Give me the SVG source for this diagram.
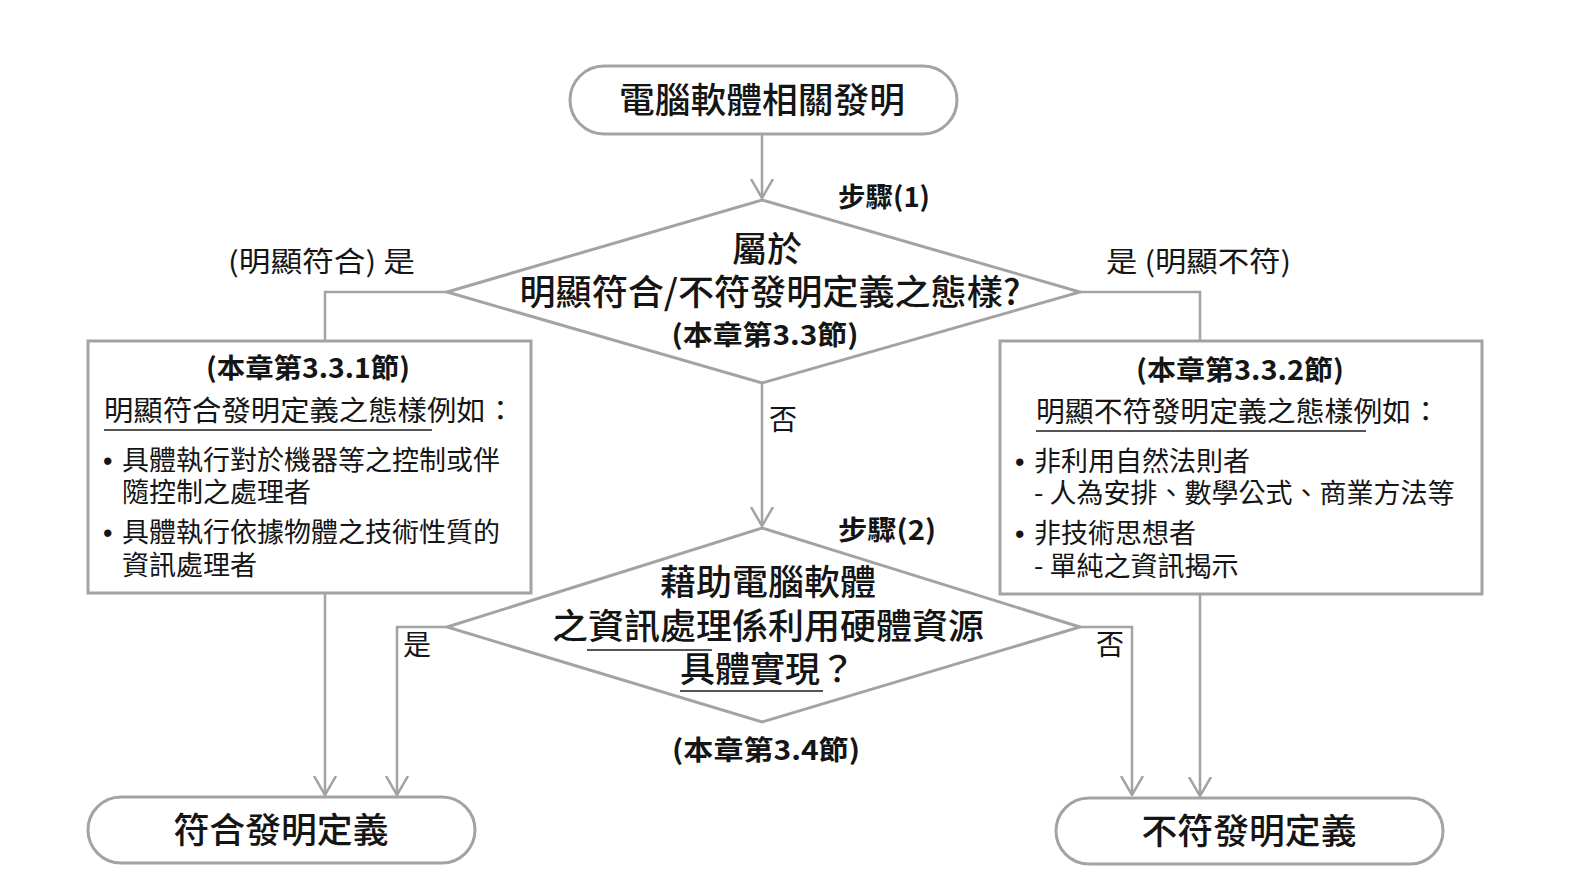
<svg xmlns="http://www.w3.org/2000/svg" width="1577" height="881" viewBox="0 0 1577 881">
<style>
text{font-family:"Noto Sans CJK TC","Noto Sans CJK SC",sans-serif;fill:#151515}
.big{font-size:35px;font-weight:500}
.mid{font-size:28px}
.ref{font-size:27px;font-weight:700}
.item{font-size:27px}
.dot{font-family:"Liberation Sans",sans-serif;font-size:27px}
.c{text-anchor:middle}
.shape{fill:#fff;stroke:#a3a3a3;stroke-width:3}
.ln{fill:none;stroke:#a3a3a3;stroke-width:2.5}
.ul{stroke:#555;stroke-width:2}
</style>
<defs>
<marker id="arr" viewBox="0 0 20 24" refX="19" refY="12" markerWidth="20" markerHeight="24" markerUnits="userSpaceOnUse" orient="auto">
<path d="M0,1 L19,12 L0,23" fill="none" stroke="#a3a3a3" stroke-width="2.5"/>
</marker>
</defs>
<rect width="1577" height="881" fill="#fff"/>

<g id="connectors">
<path class="ln" d="M762,134 V198" marker-end="url(#arr)"/>
<path class="ln" d="M447,292 H325 V341"/>
<path class="ln" d="M1080,292 H1200 V341"/>
<path class="ln" d="M762,383 V526" marker-end="url(#arr)"/>
<path class="ln" d="M325,593 V795" marker-end="url(#arr)"/>
<path class="ln" d="M447,627 H397 V795" marker-end="url(#arr)"/>
<path class="ln" d="M1200,594 V796" marker-end="url(#arr)"/>
<path class="ln" d="M1080,627 H1132 V795" marker-end="url(#arr)"/>
<text class="mid" x="783" y="430" text-anchor="middle">否</text>
<text class="mid" x="417" y="655" text-anchor="middle">是</text>
<text class="mid" x="1110" y="655" text-anchor="middle">否</text>
<text class="mid" x="228" y="272" textLength="187" lengthAdjust="spacingAndGlyphs">(明顯符合) 是</text>
<text class="mid" x="1106" y="272" textLength="185" lengthAdjust="spacingAndGlyphs">是 (明顯不符)</text>
</g>

<g id="start">
<rect class="shape" x="570" y="66" width="387" height="68" rx="34"/>
<text class="big c" x="762" y="113" textLength="286" lengthAdjust="spacingAndGlyphs">電腦軟體相關發明</text>
</g>

<g id="step1">
<polygon class="shape" points="762,200 1080,292 762,383 447,292"/>
<text class="ref" x="838" y="207" textLength="92" lengthAdjust="spacingAndGlyphs">步驟(1)</text>
<text class="big c" x="767" y="262">屬於</text>
<text class="big c" x="770" y="305" textLength="501" lengthAdjust="spacingAndGlyphs">明顯符合/不符發明定義之態樣?</text>
<text class="ref c" x="765" y="345" textLength="187" lengthAdjust="spacingAndGlyphs">(本章第3.3節)</text>
</g>

<g id="left-box">
<rect class="shape" x="88" y="341" width="443" height="252" stroke-width="2.5"/>
<text class="ref c" x="308" y="378" textLength="204" lengthAdjust="spacingAndGlyphs">(本章第3.3.1節)</text>
<text class="mid" x="104" y="421" textLength="411" lengthAdjust="spacingAndGlyphs">明顯符合發明定義之態樣例如：</text>
<line class="ul" x1="104" y1="430" x2="432" y2="430"/>
<text class="dot" x="103" y="470">•</text>
<text class="dot" x="103" y="542">•</text>
<text class="item"><tspan x="122" y="470">具體執行對於機器等之控制或伴</tspan><tspan x="122" y="502">隨控制之處理者</tspan><tspan x="122" y="542">具體執行依據物體之技術性質的</tspan><tspan x="122" y="575">資訊處理者</tspan></text>
</g>

<g id="right-box">
<rect class="shape" x="1000" y="341" width="482" height="253" stroke-width="2.5"/>
<text class="ref c" x="1240" y="380" textLength="208" lengthAdjust="spacingAndGlyphs">(本章第3.3.2節)</text>
<text class="mid" x="1036" y="422" textLength="404" lengthAdjust="spacingAndGlyphs">明顯不符發明定義之態樣例如：</text>
<line class="ul" x1="1036" y1="431" x2="1366" y2="431"/>
<text class="dot" x="1015" y="471">•</text>
<text class="dot" x="1015" y="543">•</text>
<text class="item"><tspan x="1034" y="471">非利用自然法則者</tspan><tspan x="1034" y="503">- 人為安排、數學公式、商業方法等</tspan><tspan x="1034" y="543">非技術思想者</tspan><tspan x="1034" y="576">- 單純之資訊揭示</tspan></text>
</g>

<g id="step2">
<polygon class="shape" points="762,528 1080,627 762,722 447,627"/>
<text class="ref" x="838" y="540" textLength="98" lengthAdjust="spacingAndGlyphs">步驟(2)</text>
<text class="big c" x="768" y="595" textLength="216" lengthAdjust="spacingAndGlyphs">藉助電腦軟體</text>
<text class="big" x="552" y="639" textLength="432" lengthAdjust="spacingAndGlyphs">之資訊處理係利用硬體資源</text>
<line class="ul" x1="587" y1="650" x2="712" y2="650"/>
<text class="big" x="680" y="682">具體實現？</text>
<line class="ul" x1="680" y1="691" x2="823" y2="691"/>
<text class="ref c" x="766" y="760" textLength="188" lengthAdjust="spacingAndGlyphs">(本章第3.4節)</text>
</g>

<g id="end-yes">
<rect class="shape" x="88" y="797" width="387" height="66" rx="33"/>
<text class="big c" x="281" y="843" textLength="215" lengthAdjust="spacingAndGlyphs">符合發明定義</text>
</g>

<g id="end-no">
<rect class="shape" x="1056" y="798" width="387" height="66" rx="33"/>
<text class="big c" x="1249" y="844" textLength="215" lengthAdjust="spacingAndGlyphs">不符發明定義</text>
</g>
</svg>
